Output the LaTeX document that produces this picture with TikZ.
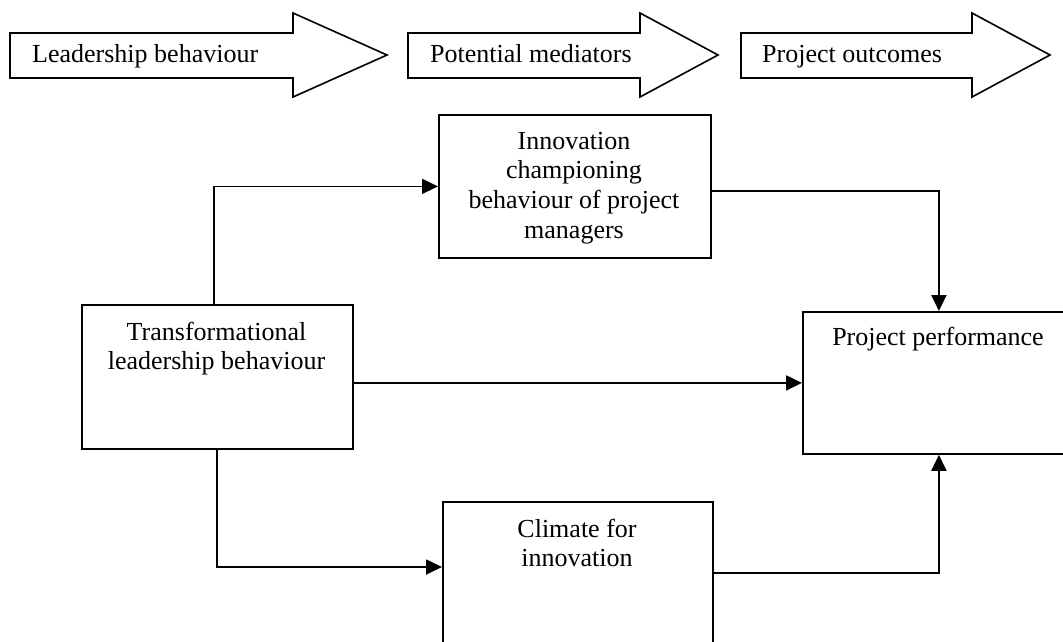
\documentclass[tikz,border=0pt]{standalone}
\usepackage{fontspec}
\setmainfont{Liberation Serif}
\usetikzlibrary{arrows.meta,calc}
\begin{document}
\begin{tikzpicture}[x=1pt,y=-1pt,
  box/.style={draw=black,line width=1.8pt,rectangle,inner sep=0pt,anchor=north west},
  txt/.style={anchor=base,inner sep=0pt,font=\fontsize{26}{29.7}\selectfont},
  lbl/.style={anchor=base west,inner sep=0pt,font=\fontsize{26}{29.7}\selectfont},
  conn/.style={draw=black,line width=1.8pt,-{Triangle[length=16pt,width=15pt]}},
  bigarrow/.style={draw=black,line width=1.6pt,fill=white,line join=miter}]
\useasboundingbox (0,0) rectangle (1063,641);
\clip (0,0) rectangle (1063,641);
\fill[white] (0,0) rectangle (1063,641);

% top stage arrows
\draw[bigarrow] (10,33) -- (293,33) -- (293,13) -- (387,55) -- (293,97) -- (293,78) -- (10,78) -- cycle;
\draw[bigarrow] (408,33) -- (640,33) -- (640,13) -- (718,55) -- (640,97) -- (640,78) -- (408,78) -- cycle;
\draw[bigarrow] (741,33) -- (972,33) -- (972,13) -- (1050,55) -- (972,97) -- (972,78) -- (741,78) -- cycle;
\node[lbl] (l1) at (32,62) {Leadership behaviour};
\node[lbl] (l2) at (430,62) {Potential mediators};
\node[lbl] (l3) at (762,62) {Project outcomes};

% boxes
\node[box,minimum width=271pt,minimum height=144pt] (trans) at (81,304) {};
\node[box,minimum width=272pt,minimum height=143pt] (innov) at (438,114) {};
\node[box,minimum width=270pt,minimum height=180pt] (clim) at (442,501) {};
\node[box,minimum width=272pt,minimum height=142pt] (perf) at (802,311) {};

% box texts
\node[txt] (transT) at (216.5,340) {\begin{tabular}[t]{@{}c@{}}Transformational\\leadership behaviour\end{tabular}};
\node[txt] (innovT) at (574,149) {\begin{tabular}[t]{@{}c@{}}Innovation\\championing\\behaviour of project\\managers\end{tabular}};
\node[txt] (climT) at (577,537) {\begin{tabular}[t]{@{}c@{}}Climate for\\innovation\end{tabular}};
\node[txt] (perfT) at (938,345) {Project performance};

% connectors
\draw[conn] ([xshift=-3.5pt]trans.north) |- (innov.west);
\draw[conn] (trans.east |- perf.west) -- (perf.west);
\draw[conn] ($(innov.north east)+(0,77)$) -| (perf.north);
\draw[conn] ([xshift=-0.5pt]trans.south) |- ($(clim.north west)+(0,66)$);
\draw[conn] ($(clim.north east)+(0,72)$) -| (perf.south);
\end{tikzpicture}
\end{document}
